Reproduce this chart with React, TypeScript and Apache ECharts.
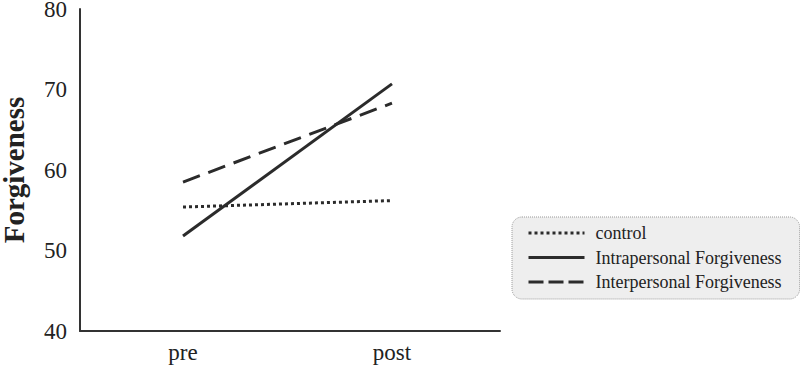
import React, { useEffect, useRef } from "react";
import * as echarts from "echarts";

const categories = ["pre", "post"];
const seriesNames = ["control", "Intrapersonal Forgiveness", "Interpersonal Forgiveness"];
const controlValues = [55.4, 56.2];
const intraValues = [51.8, 70.7];
const interValues = [58.5, 68.3];
const yTicks = [40, 50, 60, 70, 80];

const FONT = "Liberation Serif";
const INK = "#2b2b2b";

export default function App() {
  const ref = useRef<HTMLDivElement>(null);
  useEffect(() => {
    const chart = echarts.init(ref.current!, null, { renderer: "svg" });
    const mk = (vals: number[]) => vals.map((v, i) => [i, v]);
    const lineSeries = (name: string, vals: number[], type: any) => ({
      name,
      type: "line",
      data: mk(vals),
      symbol: "none",
      lineStyle: { color: INK, width: 3, type, cap: "butt" },
      itemStyle: { color: INK },
    });
    chart.setOption({
      animation: false,
      backgroundColor: "#ffffff",
      textStyle: { fontFamily: FONT },
      grid: { left: 80, right: 300, top: 9, bottom: 39, outerBoundsMode: "none", containLabel: false },
      xAxis: {
        type: "value",
        min: -0.493,
        max: 1.517,
        splitLine: { show: false },
        axisTick: { show: false },
        axisLine: { onZero: false, lineStyle: { color: "#333", width: 2 } },
        axisLabel: {
          customValues: [0, 1],
          formatter: (v: number) => categories[Math.round(v)] ?? "",
          color: "#222",
          fontFamily: FONT,
          fontSize: 23,
          margin: 10,
        },
      },
      yAxis: {
        type: "value",
        min: yTicks[0],
        max: yTicks[yTicks.length - 1],
        interval: 10,
        name: "Forgiveness",
        nameLocation: "middle",
        nameGap: 52,
        nameTextStyle: { fontFamily: FONT, fontSize: 29, fontWeight: "bold", color: "#222" },
        splitLine: { show: false },
        axisTick: { show: false },
        axisLine: { show: true, onZero: false, lineStyle: { color: "#333", width: 2 } },
        axisLabel: { color: "#222", fontFamily: FONT, fontSize: 23, margin: 13 },
      },
      legend: {
        orient: "vertical",
        left: 512,
        top: 217,
        padding: [7, 18, 8, 15],
        itemGap: 6.5,
        itemWidth: 56,
        itemHeight: 18,
        backgroundColor: "#eeeeee",
        borderColor: "#999",
        borderWidth: 1,
        borderType: "dotted",
        borderRadius: 10,
        itemStyle: { opacity: 0 },
        data: [
          { name: seriesNames[0], lineStyle: { type: [3, 3], width: 3 } },
          { name: seriesNames[1], lineStyle: { type: "solid", width: 3 } },
          { name: seriesNames[2], lineStyle: { type: [15, 5], width: 3 } },
        ],
        textStyle: { fontFamily: FONT, fontSize: 18, color: "#222", padding: [0, 0, 0, 6] },
      },
      series: [
        lineSeries(seriesNames[0], controlValues, [3, 3]),
        lineSeries(seriesNames[1], intraValues, "solid"),
        lineSeries(seriesNames[2], interValues, [18, 9]),
      ],
    });
    return () => chart.dispose();
  }, []);
  return (
    <div
      ref={ref}
      style={{ position: "absolute", left: 0, top: 0, width: 800, height: 370 }}
    />
  );
}
